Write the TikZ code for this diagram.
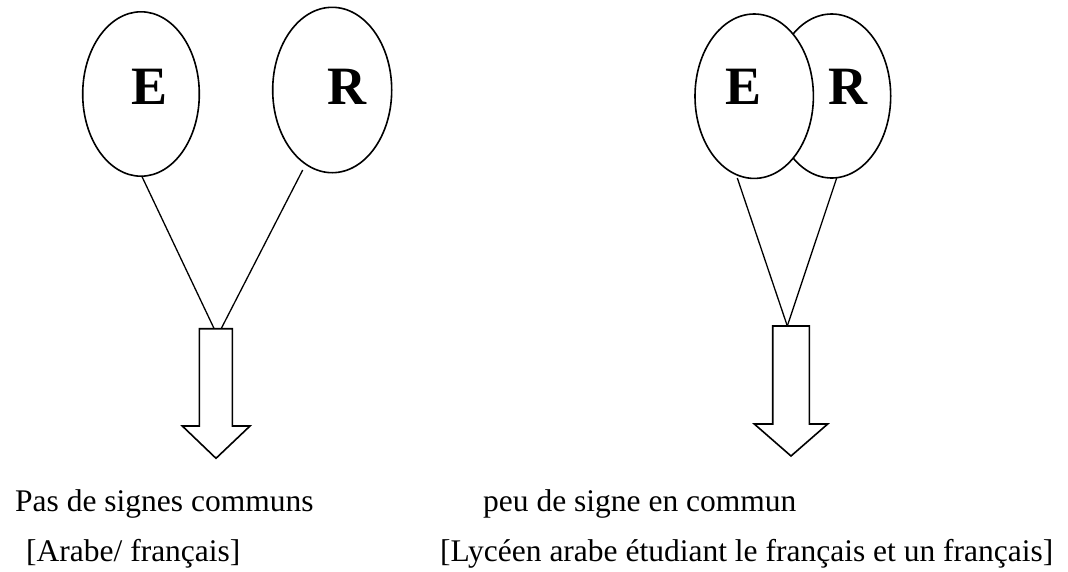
\documentclass[tikz,border=0pt]{standalone}
\usepackage{fontspec}
\setmainfont{Liberation Serif}
\usetikzlibrary{shapes.geometric}
\begin{document}
\begin{tikzpicture}[x=1pt,y=-1pt,
  bubble/.style={draw,line width=1.6pt,fill=white},
  link/.style={line width=1.3pt},
  bigarrow/.style={draw,line width=1.6pt,fill=white,line join=miter},
  letter/.style={anchor=base,inner sep=0pt,font=\fontsize{54}{60}\selectfont\bfseries},
  caption/.style={anchor=base west,inner sep=0pt,font=\fontsize{31.5}{38}\selectfont}]
\useasboundingbox (0,0) rectangle (1068,571);
% left pair
\draw[bubble] (141,94) ellipse [x radius=58.3, y radius=82.2];
\draw[bubble] (332.2,90) ellipse [x radius=59.5, y radius=82.7];
\node[letter] (e1) at (149.3,104) {E};
\node[letter] (r1) at (347.2,104) {R};
\coordinate (e1b) at (141.7,176);
\coordinate (r1b) at (302.7,170);
\coordinate (a1l) at (214.3,329);
\coordinate (a1r) at (221,329);
\draw[link] (e1b) -- (a1l);
\draw[link] (r1b) -- (a1r);
\draw[bigarrow] (199.3,328.7) -- (232.3,328.7) -- (232.3,426) -- (250,426) -- (216,458.3) -- (182.3,426) -- (199.3,426) -- cycle;
% right pair
\draw[bubble] (831.7,96) ellipse [x radius=59, y radius=82];
\draw[bubble] (754.2,96.2) ellipse [x radius=59.2, y radius=82.2];
\node[letter] (e2) at (743.3,104) {E};
\node[letter] (r2) at (847.5,104) {R};
\coordinate (e2b) at (737.3,178);
\coordinate (r2b) at (836.7,178);
\coordinate (a2t) at (787.3,326);
\draw[link] (e2b) -- (a2t);
\draw[link] (r2b) -- (a2t);
\draw[bigarrow] (772.7,326) -- (809.3,326) -- (809.3,424) -- (827.7,424) -- (791,456) -- (754.3,424) -- (772.7,424) -- cycle;
% captions
\node[caption] (c1) at (15,511) {Pas de signes communs};
\node[caption] (c2) at (26,561) {[Arabe/ français]};
\node[caption] (c3) at (483,511) {peu de signe en commun};
\node[caption] (c4) at (440,561) {[Lycéen arabe étudiant le français et un français]};
\end{tikzpicture}
\end{document}
